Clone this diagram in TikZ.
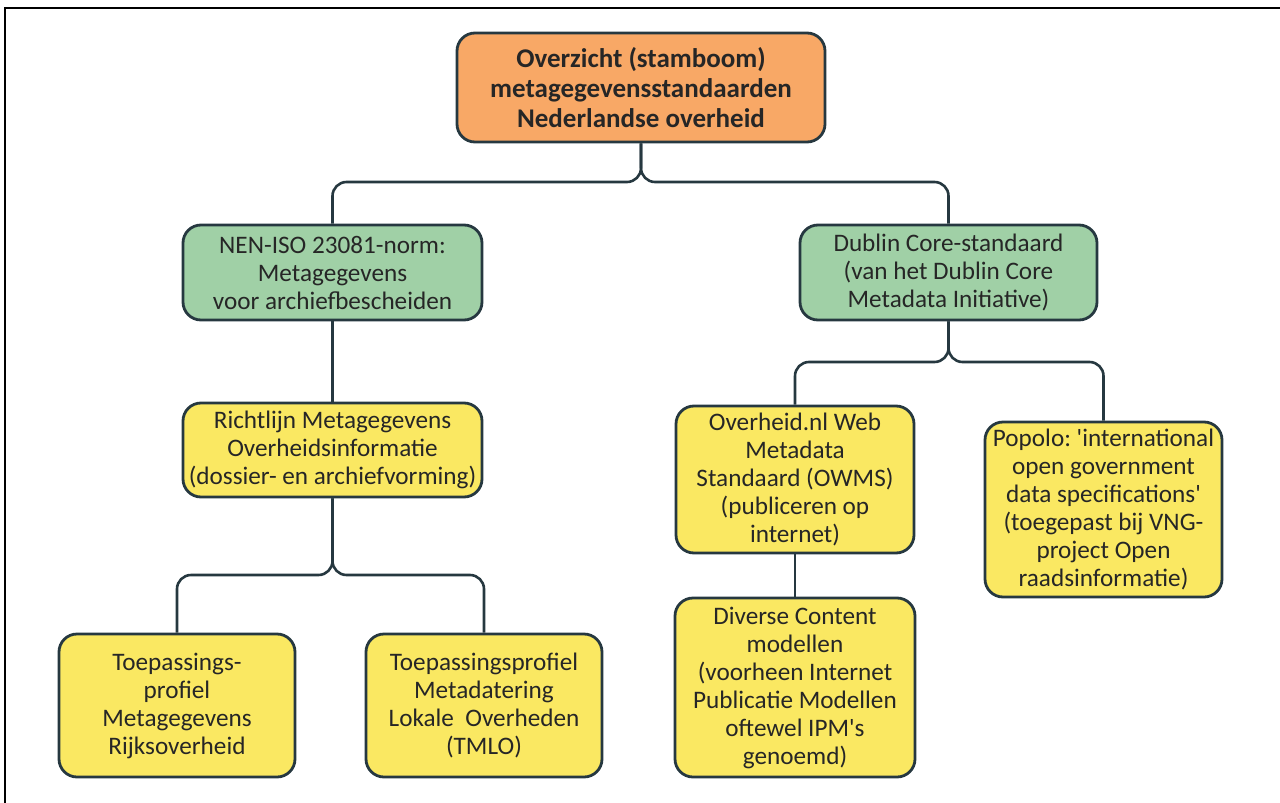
\documentclass[tikz,border=0pt]{standalone}
\usepackage{fontspec}
\setmainfont{Carlito}
\definecolor{topfill}{RGB}{248,168,102}
\definecolor{normfill}{RGB}{160,208,166}
\definecolor{subfill}{RGB}{250,232,98}
\definecolor{edge}{RGB}{38,56,64}
\begin{document}
\begin{tikzpicture}[
    x=0.5pt, y=-0.5pt,
    box/.style={rectangle, rounded corners=9pt, draw=edge, line width=1.4pt, align=center, inner sep=2pt, text=black!85, font=\fontsize{12.6}{14}\selectfont},
    topbox/.style={box, fill=topfill, font=\fontsize{13.5}{15}\selectfont\bfseries},
    normbox/.style={box, fill=normfill},
    subbox/.style={box, fill=subfill},
    link/.style={draw=edge, line width=1.3pt, rounded corners=7pt}
]
    \useasboundingbox (0,0) rectangle (1280,803);
    \draw[line width=0.9pt] (5,803) -- (5,8) -- (1280,8);

    % top
    \node[topbox, minimum width=184pt, minimum height=54.5pt] (title) at (641,87.5) {Overzicht (stamboom)\\metagegevensstandaarden\\Nederlandse overheid};

    % standards
    \node[normbox, minimum width=149.5pt, minimum height=47.5pt] (nen) at (332.5,272.5) {NEN-ISO 23081-norm:\\Metagegevens\\voor archiefbescheiden};
    \node[normbox, minimum width=148.5pt, minimum height=47.5pt] (dublin) at (948.5,272.5) {Dublin Core-standaard\\(van het Dublin Core\\Metadata Initiative)};

    % NEN branch
    \node[subbox, minimum width=149.5pt, minimum height=47pt] (richtlijn) at (332.5,450) {Richtlijn Metagegevens\\Overheidsinformatie\\(dossier- en archiefvorming)};
    \node[subbox, minimum width=118pt, minimum height=71.5pt] (tmr) at (177,705.5) {Toepassings-\\profiel\\Metagegevens\\Rijksoverheid};
    \node[subbox, minimum width=118pt, minimum height=71.5pt] (tmlo) at (484,705.5) {Toepassingsprofiel\\Metadatering\\Lokale~ Overheden\\(TMLO)};

    % Dublin Core branch
    \node[subbox, minimum width=119pt, minimum height=73.5pt] (owms) at (795,479.5) {Overheid.nl Web\\Metadata\\Standaard (OWMS)\\(publiceren op\\internet)};
    \node[subbox, minimum width=118.5pt, minimum height=87.5pt] (popolo) at (1103.5,509.5) {Popolo:~\textquotesingle international\\open government\\data specifications\textquotesingle\\(toegepast bij VNG-\\project Open\\raadsinformatie)};
    \node[subbox, minimum width=120pt, minimum height=89.5pt] (cmodel) at (795,687.5) {Diverse Content\\modellen\\(voorheen Internet\\Publicatie Modellen\\oftewel IPM\textquotesingle s\\genoemd)};

    % connectors
    \coordinate (topbus) at (641,182);
    \coordinate (dcbus) at (948.5,362);
    \coordinate (rlbus) at (332.5,575);
    \draw[link] (title.south) |- (topbus -| nen) -- (nen.north);
    \draw[link] (title.south) |- (topbus -| dublin) -- (dublin.north);
    \draw[link] (nen.south) -- (richtlijn.north);
    \draw[link] (richtlijn.south) |- (rlbus -| tmr) -- (tmr.north);
    \draw[link] (richtlijn.south) |- (rlbus -| tmlo) -- (tmlo.north);
    \draw[link] (dublin.south) |- (dcbus -| owms) -- (owms.north);
    \draw[link] (dublin.south) |- (dcbus -| popolo) -- (popolo.north);
    \draw[link] (owms.south) -- (cmodel.north);
\end{tikzpicture}
\end{document}
